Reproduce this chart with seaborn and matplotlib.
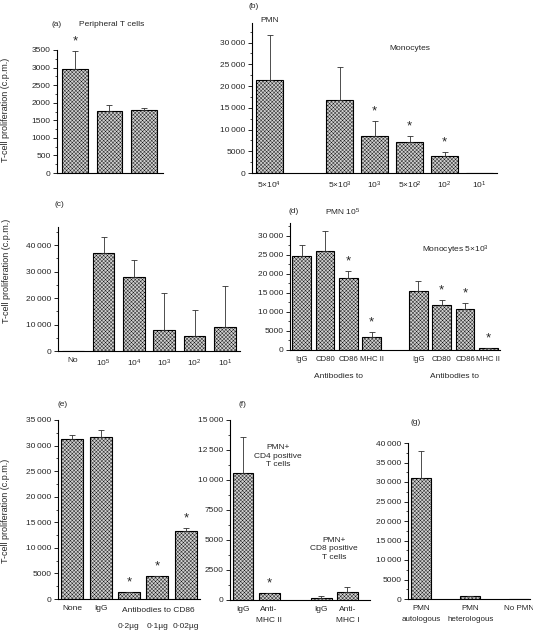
import numpy as np
import pandas as pd
import matplotlib
matplotlib.use('Agg')
import matplotlib.pyplot as plt
import seaborn as sns
from matplotlib.ticker import FixedLocator, FuncFormatter
from matplotlib.transforms import blended_transform_factory

sns.set_theme(style='ticks')
plt.rcParams['font.family'] = ['Liberation Sans', 'DejaVu Sans']
plt.rcParams['mathtext.fontset'] = 'custom'
plt.rcParams['mathtext.rm'] = 'Liberation Sans'
plt.rcParams['mathtext.default'] = 'regular'
plt.rcParams['hatch.linewidth'] = 0.28

# ---------------- data ----------------
a_labels = ['', '', '']
a_groups = [0, 0, 0]
a_values = [2950, 1760, 1780]
a_errors = [510, 170, 60]
a_stars = [True, False, False]

b_labels = ['5×10$^4$', '5×10$^3$', '10$^3$', '5×10$^2$', '10$^2$', '10$^1$']
b_groups = [0, 1, 1, 1, 1, 1]
b_values = [21500, 16700, 8400, 7100, 4000, 100]
b_errors = [10300, 7600, 3500, 1400, 800, 0]
b_stars = [False, False, True, True, True, False]

c_labels = ['No', '10$^5$', '10$^4$', '10$^3$', '10$^2$', '10$^1$']
c_groups = [0, 0, 0, 0, 0, 0]
c_values = [0, 37000, 27800, 8000, 5500, 9200]
c_errors = [0, 6200, 6600, 14000, 10000, 15500]
c_stars = [False] * 6

d_labels = ['IgG', 'CD80', 'CD86', 'MHC II', 'IgG', 'CD80', 'CD86', 'MHC II']
d_groups = [0, 0, 0, 0, 1, 1, 1, 1]
d_values = [24800, 26000, 19000, 3300, 15600, 11800, 10900, 500]
d_errors = [2700, 5200, 1700, 1400, 2500, 1300, 1400, 100]
d_stars = [False, False, True, True, False, True, True, True]

e_labels = ['None', 'IgG', '', '', '']
e_doses = ['', '', '0·2µg', '0·1µg', '0·02µg']
e_groups = [0, 0, 0, 0, 0]
e_values = [31200, 31700, 1300, 4400, 13200]
e_errors = [900, 1400, 100, 100, 700]
e_stars = [False, False, True, True, True]

f_labels = ['IgG', 'Anti-\nMHC II', 'IgG', 'Anti-\nMHC I']
f_groups = [0, 0, 1, 1]
f_values = [10600, 550, 200, 700]
f_errors = [3000, 60, 100, 350]
f_stars = [False, True, False, False]

g_labels = ['PMN\nautologous', 'PMN\nheterologous', 'No PMN']
g_groups = [0, 0, 0]
g_values = [31000, 700, 0]
g_errors = [7000, 100, 0]
g_stars = [False, False, False]

W, H = 533, 634
fig = plt.figure(figsize=(W / 100, H / 100), dpi=100)


def rect(x0, x1, ytop, ybot):
    return [x0 / W, 1 - ybot / H, (x1 - x0) / W, (ybot - ytop) / H]


def fmt(v, pos):
    v = int(round(v))
    if v >= 10000:
        return f"{v // 1000}\u2009{v % 1000:03d}"
    return str(v)


def panel(r, labels, groups, values, errors, stars, width, xlim, ylim,
          major, minor, tickpad=4.5, lsp=1.8, xsize=6):
    ax = fig.add_axes(rect(*r))
    x = np.arange(len(values)) + np.array(groups)
    df = pd.DataFrame({'x': x, 'y': values})
    sns.barplot(data=df, x='x', y='y', native_scale=True, width=width,
                color='#d0d0d0', saturation=1, edgecolor='black',
                linewidth=0.8, hatch='xxxxxxxxx', ax=ax, errorbar=None)
    err = np.array(errors)
    m = err > 0
    ax.errorbar(x[m], np.array(values)[m],
                yerr=[np.zeros(m.sum()), err[m]], fmt='none',
                ecolor='#303030', elinewidth=0.6, capsize=2, capthick=0.6)
    for xi, v, e, s in zip(x, values, errors, stars):
        if s:
            ax.annotate('*', (xi, v + e), xytext=(0, 2.5),
                        textcoords='offset points', ha='center',
                        va='bottom', fontsize=9.5)
    ax.set_xlim(*xlim)
    ax.set_ylim(*ylim)
    ax.set_xticks(x)
    ax.set_xticklabels(labels, linespacing=lsp)
    ax.yaxis.set_major_locator(FixedLocator(major))
    ax.yaxis.set_minor_locator(FixedLocator(minor))
    ax.yaxis.set_major_formatter(FuncFormatter(fmt))
    ax.set_xlabel('')
    ax.set_ylabel('')
    for s in ['top', 'right']:
        ax.spines[s].set_visible(False)
    for s in ['left', 'bottom']:
        ax.spines[s].set_linewidth(0.8)
        ax.spines[s].set_color('black')
    ax.tick_params(axis='y', which='major', direction='out', length=3,
                   width=0.6, labelsize=6, pad=1.5, color='black')
    ax.tick_params(axis='y', which='minor', direction='out', length=1.6,
                   width=0.5, color='black')
    ax.tick_params(axis='x', length=0, labelsize=xsize, pad=tickpad)
    ax.set_facecolor('none')
    return ax, x


panel((57, 163, 50, 173), a_labels, a_groups, a_values, a_errors, a_stars,
      0.75, (-0.52, 2.55), (0, 3500), np.arange(0, 3501, 500),
      np.arange(250, 3500, 500))
panel((252, 497, 23, 173), b_labels, b_groups, b_values, b_errors, b_stars,
      0.78, (-0.5, 6.5), (0, 34500), np.arange(0, 30001, 5000),
      np.arange(2500, 34500, 2500))
panel((58, 240, 227, 351), c_labels, c_groups, c_values, c_errors, c_stars,
      0.72, (-0.5, 5.5), (0, 46800), np.arange(0, 40001, 10000),
      np.arange(5000, 46800, 5000))
panel((290, 500, 223, 350), d_labels, d_groups, d_values, d_errors, d_stars,
      0.8, (-0.5, 8.5), (0, 33400), np.arange(0, 30001, 5000),
      np.arange(2500, 33400, 2500), xsize=5.6)
ax_e, x_e = panel((58, 200, 420, 599), e_labels, e_groups, e_values,
                  e_errors, e_stars, 0.78, (-0.5, 4.5), (0, 35000),
                  np.arange(0, 35001, 5000), np.arange(2500, 35000, 2500))
trans = blended_transform_factory(ax_e.transData, fig.transFigure)
for xi, d in zip(x_e, e_doses):
    if d:
        ax_e.text(xi, 1 - 627 / H, d, transform=trans, ha='center',
                  va='center', fontsize=6)
panel((230, 370, 420, 600), f_labels, f_groups, f_values, f_errors, f_stars,
      0.8, (-0.5, 4.87), (0, 15000), np.arange(0, 15001, 2500),
      np.arange(1250, 15000, 1250))
panel((408, 530, 443, 599), g_labels, g_groups, g_values, g_errors, g_stars,
      0.41, (-0.27, 2.22), (0, 40000), np.arange(0, 40001, 5000),
      np.arange(2500, 40000, 2500), xsize=5.8)


def ftext(x, y, s, **kw):
    kw.setdefault('fontsize', 6)
    kw.setdefault('ha', 'center')
    kw.setdefault('va', 'center')
    fig.text(x / W, 1 - y / H, s, **kw)


ylab = 'T-cell proliferation (c.p.m.)'
ftext(6, 110, ylab, rotation=90, fontsize=6.5)
ftext(7, 271, ylab, rotation=90, fontsize=6.5)
ftext(6, 511, ylab, rotation=90, fontsize=6.5)

ftext(57, 25, '(a)')
ftext(112, 25, 'Peripheral T cells')
ftext(254, 6, '(b)')
ftext(270, 21, 'PMN')
ftext(410, 49, 'Monocytes')
ftext(59, 205, '(c)')
ftext(294, 212, '(d)')
ftext(343, 212, 'PMN 10$^5$')
ftext(455, 250, 'Monocytes 5×10$^3$')
ftext(338, 377, 'Antibodies to')
ftext(454, 377, 'Antibodies to')
ftext(63, 405, '(e)')
ftext(158, 611, 'Antibodies to CD86')
ftext(242, 404, '(f)')
ftext(278, 456, 'PMN+\nCD4 positive\nT cells', linespacing=1.35)
ftext(334, 549, 'PMN+\nCD8 positive\nT cells', linespacing=1.35)
ftext(416, 423, '(g)')

fig.savefig('out.png', dpi=100)
